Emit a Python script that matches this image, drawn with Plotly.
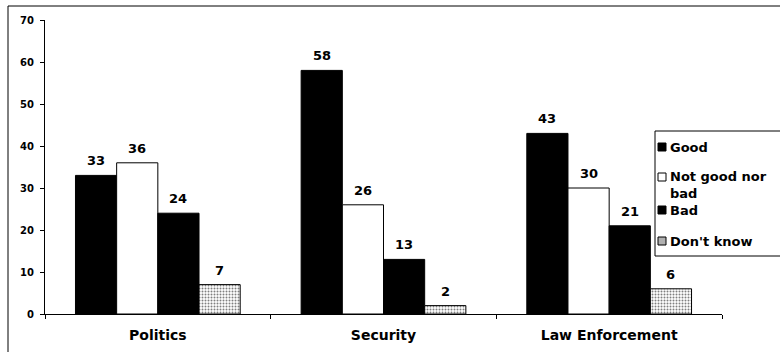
import plotly.graph_objects as go

# Survey ratings by sector (%)
categories = ["Politics", "Security", "Law Enforcement"]
good = [33, 58, 43]
neither = [36, 26, 30]
bad = [24, 13, 21]
dont_know = [7, 2, 6]

series_names = ["Good", "Not good nor<br>bad", "Bad", "Don't know"]
series_values = [good, neither, bad, dont_know]

FONT = "DejaVu Sans"
W, H = 780, 352
ML, MR, MT, MB = 45, 58, 20, 38
PW, PH = W - ML - MR, H - MT - MB
BARGAP = 0.27


def px_x(px):
    return (px - ML) / PW


def px_y(py):
    return (H - MB - py) / PH


styles = [
    dict(color="black", line=dict(color="black", width=1)),
    dict(color="white", line=dict(color="black", width=1)),
    dict(color="black", line=dict(color="black", width=1)),
    dict(color="white", line=dict(color="black", width=1),
         pattern=dict(shape=".", fgcolor="black", bgcolor="white", size=3, solidity=0.35)),
]

fig = go.Figure()
for name, vals, st in zip(series_names, series_values, styles):
    fig.add_trace(go.Bar(name=name, x=categories, y=vals, marker=st, showlegend=False))

# value labels above each bar
n = len(series_values)
bw = (1 - BARGAP) / n
annotations = []
for i, vals in enumerate(series_values):
    off = (i - (n - 1) / 2) * bw
    for j, v in enumerate(vals):
        annotations.append(dict(
            x=j + off, y=v, xref="x", yref="y", text=str(v), showarrow=False,
            yanchor="bottom", yshift=5,
            font=dict(family=FONT, size=13, color="black", weight="bold"),
        ))

# legend box drawn by hand: swatch + label per series
leg_left, leg_top, leg_bottom = 655, 131, 256
swatch_fill = ["black", "white", "black", "#b0b0b0"]
swatch_y = [147, 177, 210, 241]
label_y = [147, 185, 210, 241]
shapes = [
    dict(type="rect", xref="paper", yref="paper",
         x0=px_x(8), x1=px_x(800), y0=px_y(360), y1=px_y(6),
         line=dict(color="black", width=1), fillcolor="rgba(0,0,0,0)", layer="below"),
    dict(type="rect", xref="paper", yref="paper",
         x0=px_x(leg_left), x1=px_x(800), y0=px_y(leg_bottom), y1=px_y(leg_top),
         line=dict(color="black", width=1), fillcolor="white", layer="above"),
]
for label, sy, ty, fill in zip(series_names, swatch_y, label_y, swatch_fill):
    shapes.append(dict(type="rect", xref="paper", yref="paper",
                       x0=px_x(658), x1=px_x(666), y0=px_y(sy + 4), y1=px_y(sy - 4),
                       line=dict(color="black", width=1), fillcolor=fill, layer="above"))
    annotations.append(dict(x=px_x(668), y=px_y(ty), xref="paper", yref="paper",
                            text=label, showarrow=False, xanchor="left", yanchor="middle",
                            align="left",
                            font=dict(family=FONT, size=13, color="black", weight="bold")))

fig.update_layout(
    width=W,
    height=H,
    margin=dict(l=ML, r=MR, t=MT, b=MB, autoexpand=False),
    paper_bgcolor="white",
    plot_bgcolor="white",
    barmode="group",
    bargap=BARGAP,
    bargroupgap=0,
    font=dict(family=FONT, color="black"),
    showlegend=False,
    xaxis=dict(
        showline=True, linecolor="black", linewidth=1,
        ticks="outside", tickson="boundaries", ticklen=4, tickcolor="black",
        tickfont=dict(family=FONT, size=14, color="black", weight="bold"),
        ticklabelstandoff=8,
        showgrid=False,
    ),
    yaxis=dict(
        range=[0, 70], dtick=10,
        showline=True, linecolor="black", linewidth=1,
        ticks="outside", ticklen=4, tickcolor="black",
        tickfont=dict(family=FONT, size=10, color="black", weight="bold"),
        ticklabelstandoff=4,
        showgrid=False, zeroline=False,
    ),
    shapes=shapes,
    annotations=annotations,
)

fig.write_html("out.html")
